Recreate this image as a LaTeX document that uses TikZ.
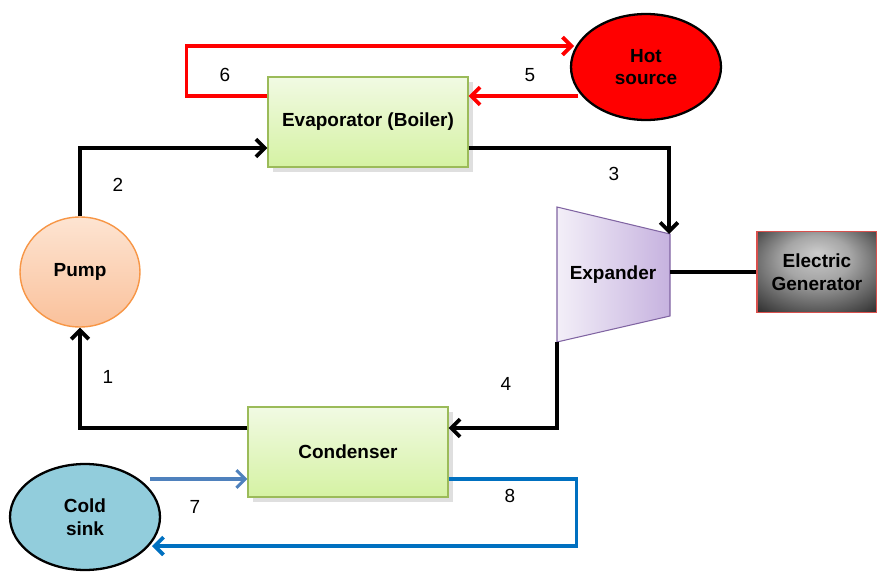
\documentclass[tikz,border=0pt]{standalone}
\usepackage{fontspec}
\setmainfont{Liberation Sans}
\usetikzlibrary{arrows.meta,shapes.geometric,shadows}

\definecolor{boxborder}{HTML}{9BBB59}
\definecolor{boxtop}{HTML}{F1FAE3}
\definecolor{boxbot}{HTML}{D5F2A3}
\definecolor{pumpborder}{HTML}{F79646}
\definecolor{pumptop}{HTML}{FDE4D2}
\definecolor{pumpbot}{HTML}{FAC19B}
\definecolor{hotred}{HTML}{FF0000}
\definecolor{coldfill}{HTML}{92CDDC}
\definecolor{coldin}{HTML}{4F81BD}
\definecolor{coldout}{HTML}{0070C0}
\definecolor{expborder}{HTML}{8064A2}
\definecolor{expleft}{HTML}{F3EFF8}
\definecolor{expright}{HTML}{C6B2DF}
\definecolor{genborder}{HTML}{D9504D}

\pgfdeclareradialshading{genshade}{\pgfpoint{0bp}{12bp}}{%
  color(0bp)=(black!20); color(14bp)=(black!35); color(34bp)=(black!75); color(46bp)=(black); color(50bp)=(black)}

\begin{document}
\begin{tikzpicture}
  [
    x=0.02cm, y=-0.02cm,
    every node/.style = {font=\fontsize{10.8}{13}\selectfont\bfseries, align=center},
    unit/.style = {draw=boxborder, line width=0.6pt, top color=boxtop, bottom color=boxbot,
        minimum width=4cm, minimum height=1.8cm, drop shadow={opacity=0.25}},
    fluid/.style = {ellipse, draw=black, line width=1.3pt, minimum width=3cm, minimum height=2.12cm},
    flow/.style = {line width=2.2pt, -{Straight Barb[length=5pt,width=10pt]}},
    plain/.style = {line width=2.2pt},
    num/.style = {font=\fontsize{10.8}{13}\selectfont},
  ]

  \useasboundingbox (0,0) rectangle (877,578);

  % components
  \node[unit] (evap) at (368,122) {Evaporator (Boiler)};
  \node[unit] (cond) at (348,452) {Condenser};
  \node[ellipse, draw=pumpborder, line width=0.8pt, top color=pumptop, bottom color=pumpbot,
      minimum width=2.4cm, minimum height=2.2cm] (pump) at (80,272) {Pump};
  \node[fluid, fill=hotred] (hot) at (646,67) {Hot\\source};
  \node[fluid, fill=coldfill] (cold) at (85,517) {Cold\\sink};
  \node[draw=genborder, line width=0.8pt, shading=genshade,
      minimum width=2.4cm, minimum height=1.62cm] (gen) at (817,272) {Electric\\Generator};

  \draw[draw=expborder, line width=0.6pt, left color=expleft, right color=expright]
    (557,207) -- (670,234) -- (670,316) -- (557,342) -- cycle;
  \node (exp) at (613,275) {Expander};
  \coordinate (expin) at (669,234);
  \coordinate (expshaft) at (670,272);
  \coordinate (expout) at (557,342);

  % ends on the ellipses
  \coordinate (hotout) at (578,96);
  \coordinate (hotin) at (574,46);
  \coordinate (coldout) at (150,479);
  \coordinate (coldin) at (152,546);

  % working fluid loop
  \draw[flow] (pump.north) |- ([yshift=-0.52cm]evap.west);
  \draw[flow] ([yshift=-0.52cm]evap.east) -| (expin);
  \draw[flow] (expout) |- ([yshift=0.48cm]cond.east);
  \draw[flow] ([yshift=0.48cm]cond.west) -| (pump.south);
  \draw[plain] (expshaft) -- (gen.west);

  % hot source loop
  \draw[flow, hotred] (hotout) -- (hotout -| evap.east);
  \draw[flow, hotred] (evap.west |- hotout) -- ++(-81,0) |- (hotin);

  % cold sink loop
  \draw[flow, coldin, line width=1.8pt] (coldout) -- (coldout -| cond.west);
  \draw[flow, coldout] (cond.east |- coldout) -- ++(128,0) |- (coldin);

  % state points
  \node[num] (n1) at (108,377) {1};
  \node[num] (n2) at (118,185) {2};
  \node[num] (n3) at (614,174) {3};
  \node[num] (n4) at (506,384) {4};
  \node[num] (n5) at (530,75) {5};
  \node[num] (n6) at (225,75) {6};
  \node[num] (n7) at (195,507) {7};
  \node[num] (n8) at (510,496) {8};

\end{tikzpicture}
\end{document}
